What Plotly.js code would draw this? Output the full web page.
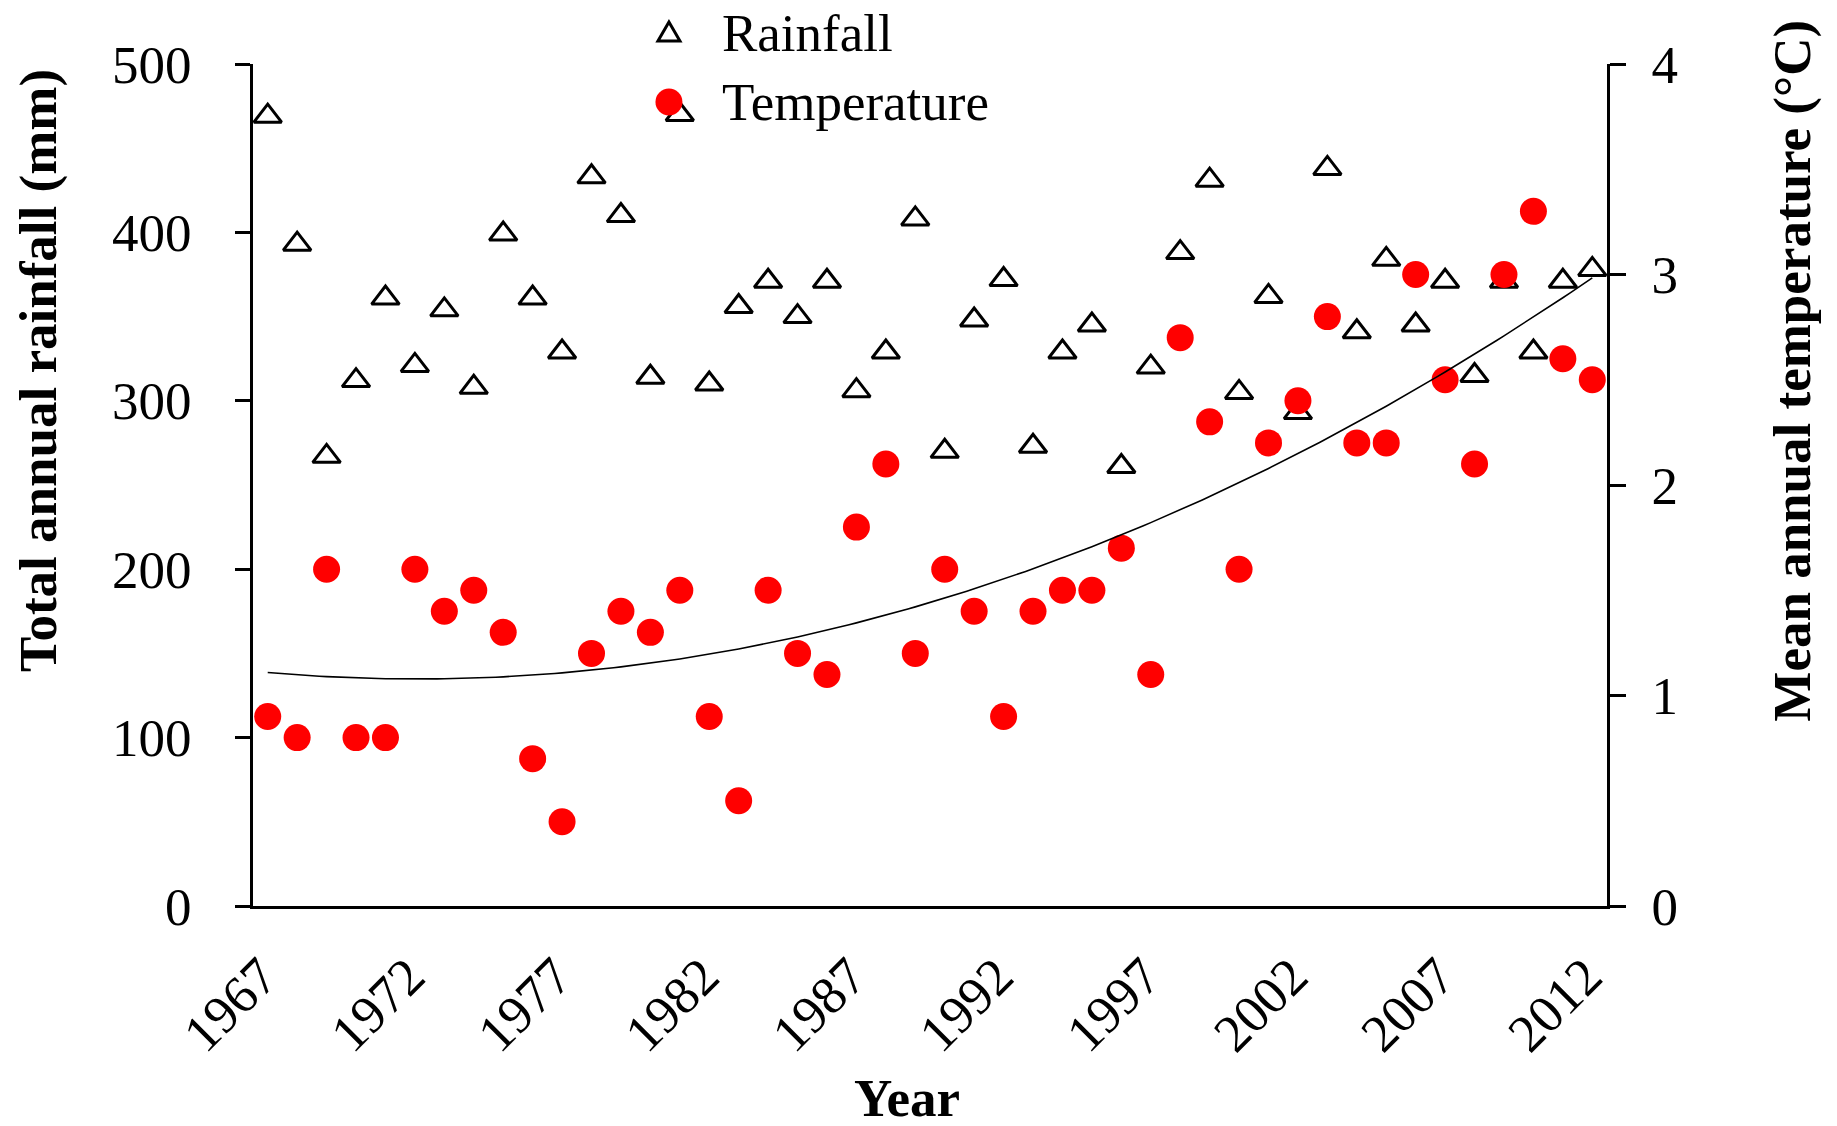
<!DOCTYPE html>
<html>
<head>
<meta charset="utf-8">
<script src="https://cdn.plot.ly/plotly-3.0.1.min.js"></script>
<style>html,body{margin:0;padding:0;background:#fff;}#chart{width:1837px;height:1126px;}</style>
</head>
<body>
<div id="chart"></div>
<script>
// ---- data ----
const years = [1967,1968,1969,1970,1971,1972,1973,1974,1975,1976,1977,1978,1979,1980,1981,1982,1983,1984,1985,1986,1987,1988,1989,1990,1991,1992,1993,1994,1995,1996,1997,1998,1999,2000,2001,2002,2003,2004,2005,2006,2007,2008,2009,2010,2011,2012];
const rainfall = [469,393,267,312,361,321,354,308,399,361,329,433,410,314,470,310,356,371,350,371,306,329,408,270,348,372,273,329,345,261,320,388,431,305,362,293,438,341,384,345,371,315,371,329,371,378];
const temperature = [0.9,0.8,1.6,0.8,0.8,1.6,1.4,1.5,1.3,0.7,0.4,1.2,1.4,1.3,1.5,0.9,0.5,1.5,1.2,1.1,1.8,2.1,1.2,1.6,1.4,0.9,1.4,1.5,1.5,1.7,1.1,2.7,2.3,1.6,2.2,2.4,2.8,2.2,2.2,3.0,2.5,2.1,3.0,3.3,2.6,2.5];
const yearTickLabels = ['1967','1972','1977','1982','1987','1992','1997','2002','2007','2012'];
const rainTicks = [0,100,200,300,400,500];
const tempTicks = [0,1,2,3,4];
const seriesNames = ['Rainfall', 'Temperature'];

// ---- 2nd-order polynomial trendline (least squares on temperature) ----
function quadFit(xs, ys) {
  const x0 = xs[0];
  const S = [0,0,0,0,0], T = [0,0,0];
  for (let i = 0; i < xs.length; i++) {
    const t = xs[i] - x0;
    for (let k = 0; k < 5; k++) S[k] += Math.pow(t, k);
    for (let k = 0; k < 3; k++) T[k] += ys[i] * Math.pow(t, k);
  }
  const M = [[S[0],S[1],S[2],T[0]],[S[1],S[2],S[3],T[1]],[S[2],S[3],S[4],T[2]]];
  for (let c = 0; c < 3; c++) {
    for (let r = c + 1; r < 3; r++) {
      const f = M[r][c] / M[c][c];
      for (let k = c; k < 4; k++) M[r][k] -= f * M[c][k];
    }
  }
  const sol = [0,0,0];
  for (let r = 2; r >= 0; r--) {
    let s = M[r][3];
    for (let k = r + 1; k < 3; k++) s -= M[r][k] * sol[k];
    sol[r] = s / M[r][r];
  }
  return t => sol[0] + sol[1] * (t - x0) + sol[2] * (t - x0) * (t - x0);
}
const fit = quadFit(years, temperature);
const trendX = [], trendY = [];
for (let x = years[0]; x <= years[years.length - 1] + 1e-9; x += 0.25) { trendX.push(x); trendY.push(fit(x)); }

const FONT = 'Liberation Serif, Times New Roman, serif';
const TXT = 53;

const traces = [
  {
    x: years, y: rainfall, name: seriesNames[0], type: 'scatter', mode: 'markers',
    marker: {symbol: 'triangle-up-open', size: 24, color: '#000', line: {color: '#000', width: 3}},
    yaxis: 'y', cliponaxis: false, showlegend: false
  },
  {
    x: years, y: temperature, name: seriesNames[1], type: 'scatter', mode: 'markers',
    marker: {symbol: 'circle', size: 27, color: '#FF0000', line: {width: 0}},
    yaxis: 'y2', cliponaxis: false, showlegend: false
  },
  {
    x: trendX, y: trendY, name: 'Poly. (Temperature)', type: 'scatter', mode: 'lines',
    line: {color: '#000', width: 1.6}, yaxis: 'y2', showlegend: false, hoverinfo: 'skip'
  }
];

// legend key (drawn as layout decorations so the symbols keep their real size)
const LEG_X = 0.3072, LEG_TX = 0.3448, LEG_Y1 = 1.0368, LEG_Y2 = 0.9549;

const layout = {
  width: 1837, height: 1126,
  margin: {l: 253, r: 230, t: 64, b: 220, autoexpand: false},
  paper_bgcolor: '#fff', plot_bgcolor: 'rgba(0,0,0,0)',
  font: {family: FONT, size: TXT, color: '#000'},
  showlegend: false,
  xaxis: {
    range: [1966.5, 2012.5],
    tickmode: 'array', tickvals: yearTickLabels.map(Number), ticktext: yearTickLabels,
    tickangle: -45, ticks: '', showgrid: false, zeroline: false,
    ticklabelstandoff: 15, ticklabelshift: -6,
    showline: true, linecolor: '#000', linewidth: 3,
    tickfont: {family: FONT, size: TXT, color: '#000'}
  },
  yaxis: {
    range: [0, 500], tickmode: 'array', tickvals: rainTicks,
    ticks: 'outside', ticklen: 15, tickwidth: 3, tickcolor: '#000',
    ticklabelstandoff: 33,
    showgrid: false, zeroline: false, showline: true, linecolor: '#000', linewidth: 3,
    tickfont: {family: FONT, size: TXT, color: '#000'}
  },
  yaxis2: {
    range: [0, 4], tickmode: 'array', tickvals: tempTicks,
    overlaying: 'y', side: 'right',
    ticks: 'outside', ticklen: 16, tickwidth: 3, tickcolor: '#000',
    ticklabelstandoff: 15,
    showgrid: false, zeroline: false, showline: true, linecolor: '#000', linewidth: 3,
    tickfont: {family: FONT, size: TXT, color: '#000'}
  },
  shapes: [
    {type: 'path', xref: 'paper', yref: 'paper', xsizemode: 'pixel', ysizemode: 'pixel',
     xanchor: LEG_X, yanchor: LEG_Y1, path: 'M-11,-8 L11,-8 L0,11 Z',
     line: {color: '#000', width: 3}, fillcolor: 'rgba(0,0,0,0)'},
    {type: 'circle', xref: 'paper', yref: 'paper', xsizemode: 'pixel', ysizemode: 'pixel',
     xanchor: LEG_X, yanchor: LEG_Y2, x0: -13.5, x1: 13.5, y0: -13.5, y1: 13.5,
     line: {width: 0}, fillcolor: '#FF0000'}
  ],
  annotations: [
    {text: seriesNames[0], xref: 'paper', yref: 'paper', x: LEG_TX, y: LEG_Y1,
     xanchor: 'left', yanchor: 'middle', showarrow: false,
     font: {family: FONT, size: TXT, color: '#000'}},
    {text: seriesNames[1], xref: 'paper', yref: 'paper', x: LEG_TX, y: LEG_Y2,
     xanchor: 'left', yanchor: 'middle', showarrow: false,
     font: {family: FONT, size: TXT, color: '#000'}},
    {text: '<b>Total annual rainfall (mm)</b>', xref: 'paper', yref: 'paper', x: -0.158, y: 0.6354,
     xanchor: 'center', yanchor: 'middle', textangle: -90, showarrow: false,
     font: {family: FONT, size: TXT, color: '#000'}},
    {text: '<b>Mean annual temperature (°C)</b>', xref: 'paper', yref: 'paper', x: 1.1371, y: 0.6354,
     xanchor: 'center', yanchor: 'middle', textangle: -90, showarrow: false,
     font: {family: FONT, size: TXT, color: '#000'}},
    {text: '<b>Year</b>', xref: 'paper', yref: 'paper', x: 0.4829, y: -0.228,
     xanchor: 'center', yanchor: 'middle', showarrow: false,
     font: {family: FONT, size: TXT, color: '#000'}}
  ]
};

Plotly.newPlot('chart', traces, layout, {displayModeBar: false, staticPlot: true});
</script>
</body>
</html>
